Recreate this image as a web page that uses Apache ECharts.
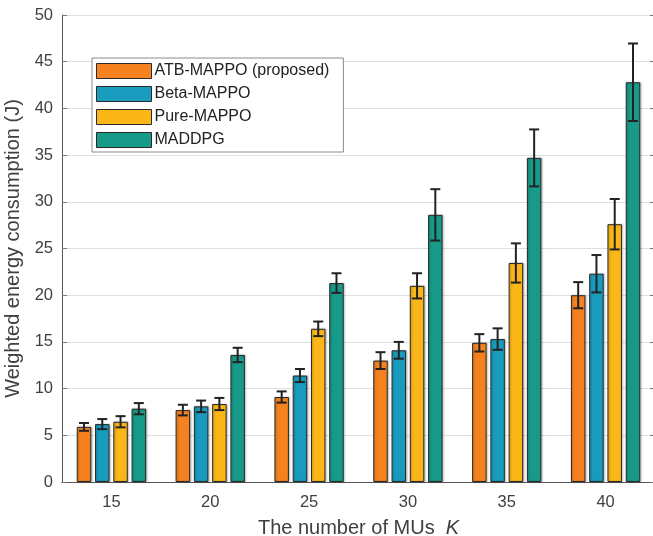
<!DOCTYPE html>
<html>
<head>
<meta charset="utf-8">
<script src="https://cdn.jsdelivr.net/npm/echarts@6/dist/echarts.min.js"></script>
<style>
  html, body { margin: 0; padding: 0; background: #fff; }
  #chart { width: 653px; height: 536px; }
</style>
</head>
<body>
<div id="chart"></div>
<script>
// data
const categories = ['15', '20', '25', '30', '35', '40'];
const seriesNames = ['ATB-MAPPO (proposed)', 'Beta-MAPPO', 'Pure-MAPPO', 'MADDPG'];
const atbMean = [5.9, 7.7, 9.1, 13.0, 14.9, 20.0];
const atbErr = [0.42, 0.57, 0.6, 0.9, 0.93, 1.4];
const betaMean = [6.2, 8.1, 11.4, 14.1, 15.3, 22.3];
const betaErr = [0.54, 0.62, 0.7, 0.9, 1.15, 2.0];
const pureMean = [6.45, 8.35, 16.4, 21.0, 23.45, 27.6];
const pureErr = [0.6, 0.65, 0.78, 1.35, 2.1, 2.7];
const maddpgMean = [7.85, 13.6, 21.3, 28.6, 34.7, 42.8];
const maddpgErr = [0.6, 0.77, 1.05, 2.75, 3.05, 4.15];
const yTicks = [0, 5, 10, 15, 20, 25, 30, 35, 40, 45, 50];

const means = [atbMean, betaMean, pureMean, maddpgMean];
const errs = [atbErr, betaErr, pureErr, maddpgErr];
const colors = ['#f5821f', '#189bbd', '#fbb617', '#179a88'];

const chart = echarts.init(document.getElementById('chart'));
const FONT = "'Liberation Sans', Arial, sans-serif";
const barW = 14.5;
const barGapRatio = 0.26;
const pitch = barW * (1 + barGapRatio);

const barSeries = means.map((m, i) => ({
  name: seriesNames[i],
  type: 'bar',
  data: m,
  barWidth: barW,
  barGap: (barGapRatio * 100) + '%',
  itemStyle: {
    color: colors[i],
    borderColor: '#2a2a2a',
    borderWidth: 1,
    shadowColor: 'rgba(0,0,0,0.25)',
    shadowBlur: 2,
    shadowOffsetX: 1
  },
  z: 2
}));

// error bars drawn with a custom series per group
const errSeries = means.map((m, i) => ({
  type: 'custom',
  name: 'err' + i,
  data: m.map((v, k) => [k, v, errs[i][k]]),
  z: 5,
  renderItem(params, api) {
    const k = api.value(0), v = api.value(1), e = api.value(2);
    const off = (i - 1.5) * pitch;
    const top = api.coord([k, v + e]);
    const bot = api.coord([k, v - e]);
    const x = top[0] + off;
    const cap = 5;
    const st = { stroke: '#222', lineWidth: 2 };
    return {
      type: 'group',
      children: [
        { type: 'line', shape: { x1: x, y1: top[1], x2: x, y2: bot[1] }, style: st },
        { type: 'line', shape: { x1: x - cap, y1: top[1], x2: x + cap, y2: top[1] }, style: st },
        { type: 'line', shape: { x1: x - cap, y1: bot[1], x2: x + cap, y2: bot[1] }, style: st }
      ]
    };
  }
}));

const option = {
  animation: false,
  backgroundColor: '#fff',
  textStyle: { fontFamily: FONT },
  grid: { left: 62, top: 15, width: 593, height: 467, outerBoundsMode: 'none', containLabel: false },
  legend: {
    data: seriesNames,
    orient: 'vertical',
    left: 92,
    top: 58,
    icon: 'rect',
    itemWidth: 55,
    itemHeight: 15,
    itemGap: 7,
    padding: [5, 14, 4, 4],
    backgroundColor: '#fff',
    borderColor: '#8a8a8a',
    borderWidth: 1,
    borderRadius: 0,
    textStyle: { fontFamily: FONT, fontSize: 16, color: '#222', padding: [0, 0, 0, -2] },
    itemStyle: { borderColor: '#2a2a2a', borderWidth: 1, shadowBlur: 0, shadowOffsetX: 0 }
  },
  xAxis: [{
    type: 'category',
    data: categories,
    position: 'bottom',
    name: 'The number of MUs  {i|K}',
    nameLocation: 'middle',
    nameGap: 36,
    nameTextStyle: {
      fontFamily: FONT, fontSize: 20, color: '#404040',
      rich: { i: { fontStyle: 'italic', fontSize: 20, color: '#404040', fontFamily: FONT } }
    },
    axisLine: { lineStyle: { color: '#555', width: 1 } },
    axisTick: { inside: true, alignWithLabel: true, length: 5, lineStyle: { color: '#999' } },
    axisLabel: { fontFamily: FONT, fontSize: 16.5, color: '#404040', margin: 12 },
    splitLine: { show: false }
  }, {
    type: 'category',
    data: categories,
    position: 'top',
    axisLine: { lineStyle: { color: '#555', width: 1 } },
    axisTick: { inside: true, alignWithLabel: true, length: 5, lineStyle: { color: '#999' } },
    axisLabel: { show: false }
  }],
  yAxis: [{
    type: 'value',
    min: yTicks[0],
    max: yTicks[yTicks.length - 1],
    interval: 5,
    name: 'Weighted energy consumption (J)',
    nameLocation: 'middle',
    nameGap: 36,
    nameTextStyle: { fontFamily: FONT, fontSize: 20, color: '#404040' },
    axisLine: { show: true, lineStyle: { color: '#555', width: 1 } },
    axisTick: { show: true, inside: true, length: 5, lineStyle: { color: '#777' } },
    axisLabel: { fontFamily: FONT, fontSize: 16.5, color: '#404040', margin: 9 },
    splitLine: { show: true, lineStyle: { color: '#dedede', width: 1 } }
  }, {
    type: 'value',
    position: 'right',
    min: yTicks[0],
    max: yTicks[yTicks.length - 1],
    interval: 5,
    axisLine: { show: true, lineStyle: { color: '#555', width: 1 } },
    axisTick: { show: true, inside: true, length: 5, lineStyle: { color: '#777' } },
    axisLabel: { show: false },
    splitLine: { show: false }
  }],
  series: [...barSeries, ...errSeries]
};

chart.setOption(option);
</script>
</body>
</html>
